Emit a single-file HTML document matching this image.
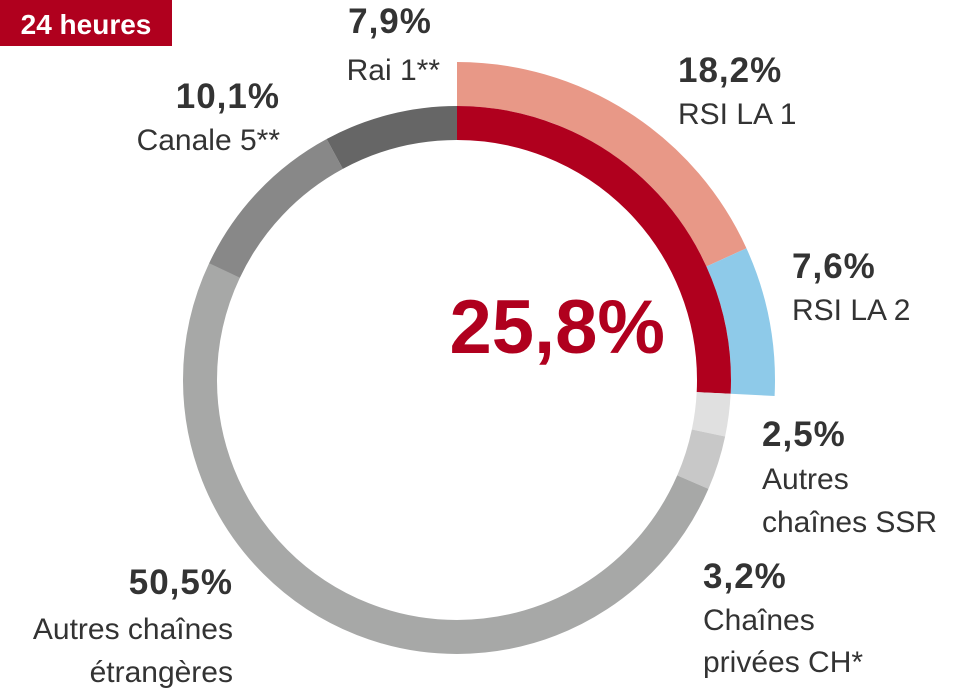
<!DOCTYPE html>
<html><head><meta charset="utf-8"><style>
html,body{margin:0;padding:0;background:#fff;}
body{width:957px;height:699px;position:relative;overflow:hidden;font-family:"Liberation Sans",sans-serif;}
</style></head><body>
<svg width="957" height="699" viewBox="0 0 957 699" xmlns="http://www.w3.org/2000/svg" style="position:absolute;left:0;top:0">
<rect x="0" y="0" width="172" height="46" fill="#b0001e"/>
<text x="86" y="34" text-anchor="middle" font-family="Liberation Sans" font-weight="bold" font-size="28" fill="#fff">24 heures</text>
<g transform="rotate(-90 457 380)" fill="none">
<circle cx="457" cy="380" r="296" stroke="#e89887" stroke-width="44" stroke-dasharray="338.5 2000" stroke-dashoffset="0"/>
<circle cx="457" cy="380" r="296" stroke="#8ecae9" stroke-width="44" stroke-dasharray="141.3 2000" stroke-dashoffset="-338.5"/>
<circle cx="457" cy="380" r="257" stroke="#b0001e" stroke-width="34" stroke-dasharray="416.6 2000" stroke-dashoffset="0"/>
<circle cx="457" cy="380" r="257" stroke="#e0e0e0" stroke-width="34" stroke-dasharray="40.4 2000" stroke-dashoffset="-416.6"/>
<circle cx="457" cy="380" r="257" stroke="#c8c8c8" stroke-width="34" stroke-dasharray="51.7 2000" stroke-dashoffset="-457"/>
<circle cx="457" cy="380" r="257" stroke="#a7a8a7" stroke-width="34" stroke-dasharray="815.5 2000" stroke-dashoffset="-508.7"/>
<circle cx="457" cy="380" r="257" stroke="#888888" stroke-width="34" stroke-dasharray="163.1 2000" stroke-dashoffset="-1324.1"/>
<circle cx="457" cy="380" r="257" stroke="#666666" stroke-width="34" stroke-dasharray="127.7 2000" stroke-dashoffset="-1487.2"/>
</g>
<g font-family="Liberation Sans" fill="#333">
<text x="665" y="353" text-anchor="end" font-weight="bold" font-size="76" fill="#b0001e">25,8%</text>
<g font-weight="bold" font-size="35" letter-spacing="1">
<text x="390" y="33" text-anchor="middle">7,9%</text>
<text x="280" y="108" text-anchor="end">10,1%</text>
<text x="678" y="82">18,2%</text>
<text x="792" y="278">7,6%</text>
<text x="762" y="446">2,5%</text>
<text x="703" y="588">3,2%</text>
<text x="233" y="594" text-anchor="end">50,5%</text>
</g>
<g font-size="30">
<text x="440" y="80" text-anchor="end">Rai 1**</text>
<text x="280" y="150" text-anchor="end">Canale 5**</text>
<text x="678" y="124">RSI LA 1</text>
<text x="792" y="320">RSI LA 2</text>
<text x="762" y="489">Autres</text>
<text x="762" y="532">chaînes SSR</text>
<text x="703" y="630">Chaînes</text>
<text x="703" y="672">privées CH*</text>
<text x="233" y="639" text-anchor="end">Autres chaînes</text>
<text x="233" y="682" text-anchor="end">étrangères</text>
</g>
</g>
</svg>
</body></html>
